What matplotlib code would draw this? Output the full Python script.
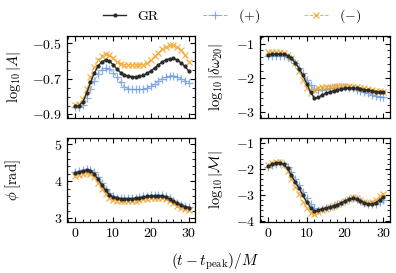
import numpy as np
import matplotlib
matplotlib.use("Agg")
import matplotlib.pyplot as plt
from matplotlib.ticker import AutoMinorLocator, MultipleLocator

plt.rcParams.update({
    "font.family": "serif",
    "font.serif": ["cmr10", "DejaVu Serif"],
    "mathtext.fontset": "cm",
    "axes.formatter.use_mathtext": True,
    "font.size": 10,
    "xtick.direction": "in",
    "ytick.direction": "in",
    "xtick.top": True,
    "ytick.right": True,
    "xtick.minor.visible": True,
    "ytick.minor.visible": True,
    "xtick.major.size": 3.5,
    "ytick.major.size": 3.5,
    "xtick.minor.size": 2,
    "ytick.minor.size": 2,
    "axes.linewidth": 0.9,
})

t = list(range(0, 31))

# log10|A|
amp_gr = [-0.855, -0.85, -0.83, -0.78, -0.72, -0.67, -0.63, -0.605, -0.595, -0.60, -0.62,
          -0.645, -0.665, -0.678, -0.685, -0.688, -0.688, -0.686, -0.68, -0.67, -0.655,
          -0.64, -0.622, -0.606, -0.594, -0.587, -0.586, -0.595, -0.61, -0.63, -0.655]
amp_plus = [-0.86, -0.86, -0.845, -0.81, -0.76, -0.71, -0.675, -0.65, -0.64, -0.645, -0.665,
            -0.69, -0.72, -0.745, -0.757, -0.76, -0.76, -0.76, -0.758, -0.752, -0.742,
            -0.73, -0.715, -0.70, -0.69, -0.683, -0.682, -0.688, -0.70, -0.712, -0.725]
amp_minus = [-0.845, -0.84, -0.815, -0.76, -0.69, -0.635, -0.595, -0.572, -0.563, -0.568, -0.585,
             -0.605, -0.617, -0.622, -0.622, -0.622, -0.622, -0.622, -0.62, -0.61, -0.595,
             -0.575, -0.555, -0.535, -0.52, -0.512, -0.512, -0.522, -0.54, -0.565, -0.605]

# log10|delta omega_20|
w_gr = [-1.32, -1.31, -1.30, -1.30, -1.31, -1.35, -1.43, -1.56, -1.73, -1.93, -2.17,
        -2.42, -2.60, -2.57, -2.50, -2.45, -2.41, -2.38, -2.35, -2.33, -2.31,
        -2.30, -2.30, -2.31, -2.32, -2.34, -2.36, -2.38, -2.40, -2.41, -2.42]
w_plus = [-1.37, -1.36, -1.35, -1.35, -1.36, -1.39, -1.45, -1.56, -1.70, -1.87, -2.05,
          -2.20, -2.33, -2.36, -2.35, -2.33, -2.31, -2.30, -2.29, -2.28, -2.28,
          -2.29, -2.31, -2.34, -2.37, -2.41, -2.45, -2.49, -2.52, -2.55, -2.57]
w_minus = [-1.26, -1.25, -1.25, -1.25, -1.27, -1.32, -1.42, -1.58, -1.80, -2.05, -2.30,
           -2.45, -2.35, -2.30, -2.28, -2.27, -2.26, -2.25, -2.24, -2.24, -2.24,
           -2.25, -2.26, -2.27, -2.29, -2.31, -2.33, -2.35, -2.37, -2.39, -2.40]

# phi [rad]
phi_gr = [4.22, 4.25, 4.28, 4.30, 4.28, 4.20, 4.06, 3.90, 3.76, 3.64, 3.57,
          3.54, 3.53, 3.53, 3.53, 3.53, 3.54, 3.55, 3.57, 3.59, 3.60,
          3.61, 3.61, 3.60, 3.57, 3.52, 3.46, 3.40, 3.35, 3.31, 3.29]
phi_plus = [4.25, 4.28, 4.31, 4.33, 4.31, 4.24, 4.11, 3.95, 3.80, 3.68, 3.60,
            3.56, 3.55, 3.55, 3.55, 3.55, 3.56, 3.57, 3.59, 3.61, 3.62,
            3.63, 3.63, 3.62, 3.59, 3.54, 3.48, 3.42, 3.37, 3.33, 3.30]
phi_minus = [4.15, 4.18, 4.21, 4.23, 4.20, 4.11, 3.96, 3.80, 3.67, 3.56, 3.50,
             3.48, 3.47, 3.47, 3.47, 3.47, 3.48, 3.49, 3.51, 3.53, 3.54,
             3.55, 3.55, 3.54, 3.51, 3.46, 3.40, 3.34, 3.29, 3.25, 3.23]

# log10|M|
m_gr = [-1.90, -1.82, -1.76, -1.75, -1.82, -1.98, -2.25, -2.50, -2.75, -3.02, -3.28,
        -3.50, -3.63, -3.60, -3.55, -3.51, -3.47, -3.43, -3.38, -3.31, -3.24,
        -3.17, -3.13, -3.15, -3.22, -3.30, -3.35, -3.36, -3.30, -3.20, -3.08]
m_plus = [-1.93, -1.86, -1.80, -1.77, -1.80, -1.92, -2.12, -2.38, -2.63, -2.88, -3.12,
          -3.35, -3.52, -3.58, -3.55, -3.51, -3.47, -3.42, -3.37, -3.30, -3.23,
          -3.17, -3.14, -3.17, -3.24, -3.31, -3.36, -3.37, -3.34, -3.28, -3.20]
m_minus = [-1.85, -1.77, -1.71, -1.72, -1.84, -2.06, -2.38, -2.68, -2.98, -3.28, -3.52,
           -3.70, -3.73, -3.65, -3.58, -3.53, -3.48, -3.43, -3.37, -3.30, -3.22,
           -3.15, -3.10, -3.13, -3.20, -3.27, -3.31, -3.28, -3.18, -3.06, -2.95]

ylabels = [r"$\log_{10}|A|$", r"$\log_{10}|\delta\omega_{20}|$",
           r"$\phi\;[{\rm rad}]$", r"$\log_{10}|\mathcal{M}|$"]
xlabel = r"$(t-t_{\rm peak})/M$"
legend_labels = ["GR", r"$(+)$", r"$(-)$"]

panels = [(amp_gr, amp_plus, amp_minus), (w_gr, w_plus, w_minus),
          (phi_gr, phi_plus, phi_minus), (m_gr, m_plus, m_minus)]
ylims = [(-0.92, -0.46), (-3.17, -0.78), (2.9, 5.17), (-4.05, -0.8)]
yticks = [[-0.9, -0.7, -0.5], [-3, -2, -1], [3, 4, 5], [-4, -3, -2, -1]]
yticklabels = [["$-0.9$", "$-0.7$", "$-0.5$"], None, None, None]

W, H = 396, 273
fig = plt.figure(figsize=(W / 100, H / 100), dpi=100)
rects = [(67, 36, 128, 82), (260, 36, 130, 82), (67, 138, 128, 84), (260, 138, 130, 84)]

blue = "#6d9ce0"
orange = "#f2a62a"
handles = None
for i, (rect, (gr, pl, mi)) in enumerate(zip(rects, panels)):
    x0, y0, w, h = rect
    ax = fig.add_axes([x0 / W, 1 - (y0 + h) / H, w / W, h / H])
    hp, = ax.plot(t, pl, ls="--", lw=0.7, color=blue, marker="+", ms=6, mew=0.9, alpha=0.8)
    hm, = ax.plot(t, mi, ls="--", lw=0.7, color=orange, marker="x", ms=4.5, mew=0.9, alpha=0.85)
    hg, = ax.plot(t, gr, ls="-", lw=1.0, color="#2a2a2a", marker="o", ms=2)
    handles = [hg, hp, hm]
    ax.set_xlim(-2.2, 31.7)
    ax.set_ylim(*ylims[i])
    ax.set_xticks([0, 10, 20, 30])
    ax.xaxis.set_minor_locator(MultipleLocator(2))
    ax.set_yticks(yticks[i])
    if yticklabels[i] is not None:
        ax.set_yticklabels(yticklabels[i])
    ax.yaxis.set_minor_locator(AutoMinorLocator())
    ax.tick_params(labelsize=10)
    if i < 2:
        ax.set_xticklabels([])
    ax.set_ylabel(ylabels[i], fontsize=10.5)
    ax.yaxis.set_label_coords(-0.34 if i % 2 == 0 else -0.27, 0.5)

fig.legend(handles, legend_labels, loc="center", bbox_to_anchor=(232 / W, 1 - 16 / H),
           ncol=3, frameon=False, fontsize=10, handlelength=1.7, columnspacing=3.2,
           handletextpad=0.8)
fig.text(215 / W, 1 - 262 / H, xlabel, ha="center", va="center", fontsize=11)

fig.savefig("out.png", dpi=100)
